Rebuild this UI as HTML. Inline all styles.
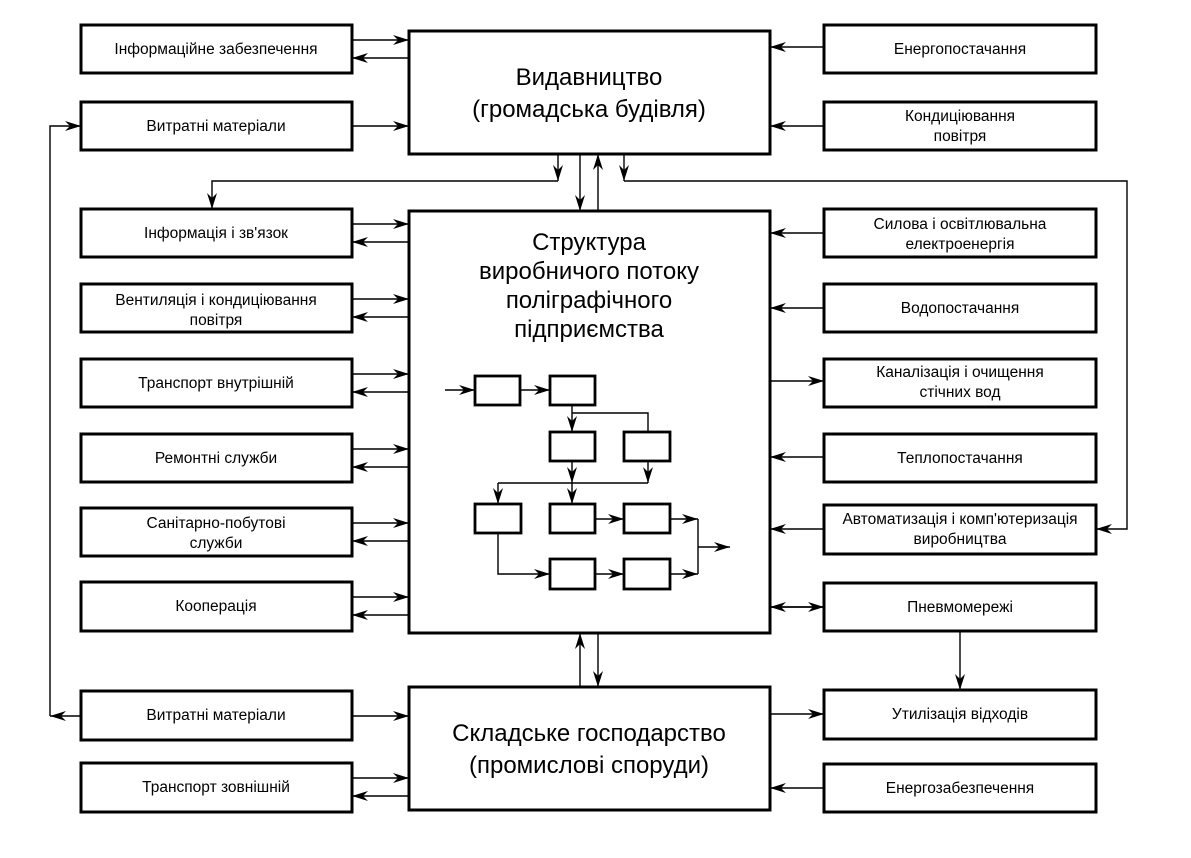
<!DOCTYPE html>
<html><head><meta charset="utf-8"><style>
html,body{margin:0;padding:0;background:#fff}
svg{display:block}
text{font-family:"Liberation Sans",sans-serif;fill:#000}
.b{fill:#fff;stroke:#000;stroke-width:3}
.l{stroke:#000;stroke-width:1.4;fill:none}
.t{font-size:15.5px;text-anchor:middle}
.h{font-size:24px;text-anchor:middle}
</style></head><body>
<svg width="1191" height="858" viewBox="0 0 1191 858" xmlns="http://www.w3.org/2000/svg">
<defs>
<marker id="a" viewBox="0 0 16 10" refX="16" refY="5" markerWidth="16" markerHeight="10" markerUnits="userSpaceOnUse" orient="auto-start-reverse">
<path d="M0,0 L16,5 L0,10 L5,5 Z" fill="#000"/></marker>
</defs>
<g class="b">
<rect x="81" y="25" width="271" height="48"/><rect x="81" y="102" width="271" height="48"/>
<rect x="81" y="209" width="271" height="48"/><rect x="81" y="284" width="271" height="48"/>
<rect x="81" y="359" width="271" height="48"/><rect x="81" y="434" width="271" height="48"/>
<rect x="81" y="508" width="271" height="48"/><rect x="81" y="582" width="271" height="49"/>
<rect x="81" y="691" width="271" height="49"/><rect x="81" y="763" width="271" height="49"/>
<rect x="824" y="25" width="272" height="48"/><rect x="824" y="102" width="272" height="48"/>
<rect x="824" y="209" width="272" height="48"/><rect x="824" y="284" width="272" height="48"/>
<rect x="824" y="359" width="272" height="48"/><rect x="824" y="434" width="272" height="48"/>
<rect x="824" y="505" width="272" height="49"/><rect x="824" y="583" width="272" height="48"/>
<rect x="824" y="690" width="272" height="49"/><rect x="824" y="764" width="272" height="48"/>
<rect x="409" y="31" width="361" height="123"/>
<rect x="409" y="211" width="361" height="422"/>
<rect x="409" y="687" width="361" height="123"/>
</g>
<g class="b" style="stroke-width:2.8">
<rect x="475" y="376" width="45" height="29"/><rect x="550" y="376" width="45" height="29"/>
<rect x="550" y="432" width="45" height="29"/><rect x="624" y="432" width="46" height="29"/>
<rect x="475" y="504" width="46" height="29"/><rect x="550" y="504" width="45" height="29"/>
<rect x="624" y="504" width="46" height="29"/><rect x="550" y="559" width="45" height="30"/>
<rect x="624" y="559" width="46" height="30"/>
</g>
<g class="l" marker-end="url(#a)">
<path d="M352 40H409"/><path d="M409 58H352"/>
<path d="M352 126H409"/>
<path d="M352 224H409"/><path d="M409 242H352"/>
<path d="M352 299H409"/><path d="M409 317H352"/>
<path d="M352 374H409"/><path d="M409 392H352"/>
<path d="M352 449H409"/><path d="M409 467H352"/>
<path d="M352 523H409"/><path d="M409 541H352"/>
<path d="M352 597H409"/><path d="M409 615H352"/>
<path d="M352 716H409"/>
<path d="M352 778H409"/><path d="M409 796H352"/>
<path d="M81 716H50"/><path d="M50 716V126H81"/>
<path d="M824 47H770"/><path d="M824 126H770"/>
<path d="M824 233H770"/><path d="M824 308H770"/>
<path d="M770 381H824"/><path d="M824 457H770"/>
<path d="M824 529H770"/>
<path d="M824 607H770"/><path d="M770 607H824"/>
<path d="M770 714H824"/><path d="M824 788H770"/>
<path d="M960 631V690"/>
<path d="M558 154V181"/><path d="M624 154V181"/>
<path d="M580 154V211"/><path d="M598 211V154"/>
<path d="M558 181H212V209"/>
<path d="M624 181H1127V529H1096"/>
<path d="M580 687V633"/><path d="M598 633V687"/>
<path d="M445 390H475"/><path d="M520 390H550"/>
<path d="M572 405V432"/><path d="M572 461V483"/><path d="M648 461V483"/>
<path d="M572 483V504"/><path d="M498 483V504"/>
<path d="M595 519H624"/><path d="M670 519H698"/>
<path d="M498 533V574H550"/><path d="M595 574H624"/><path d="M670 574H698"/>
<path d="M698 547H730"/>
</g>
<g class="l">
<path d="M572 413H648V432"/><path d="M498 483H648"/><path d="M698 519V574"/>
</g>
<g class="t">
<text x="216" y="54">Інформаційне забезпечення</text>
<text x="216" y="131">Витратні матеріали</text>
<text x="216" y="238">Інформація і зв'язок</text>
<text x="216" y="305">Вентиляція і кондиціювання</text><text x="216" y="325">повітря</text>
<text x="216" y="388">Транспорт внутрішній</text>
<text x="216" y="463">Ремонтні служби</text>
<text x="216" y="528">Санітарно-побутові</text><text x="216" y="548">служби</text>
<text x="216" y="611">Кооперація</text>
<text x="216" y="720">Витратні матеріали</text>
<text x="216" y="792">Транспорт зовнішній</text>
<text x="960" y="54">Енергопостачання</text>
<text x="960" y="121">Кондиціювання</text><text x="960" y="141">повітря</text>
<text x="960" y="229">Силова і освітлювальна</text><text x="960" y="249">електроенергія</text>
<text x="960" y="313">Водопостачання</text>
<text x="960" y="377">Каналізація і очищення</text><text x="960" y="397">стічних вод</text>
<text x="960" y="463">Теплопостачання</text>
<text x="960" y="524">Автоматизація і комп'ютеризація</text><text x="960" y="544">виробництва</text>
<text x="960" y="612">Пневмомережі</text>
<text x="960" y="719">Утилізація відходів</text>
<text x="960" y="793">Енергозабезпечення</text>
</g>
<g class="h">
<text x="589" y="85">Видавництво</text><text x="589" y="117">(громадська будівля)</text>
<text x="589" y="250">Структура</text><text x="589" y="279">виробничого потоку</text>
<text x="589" y="308">поліграфічного</text><text x="589" y="337">підприємства</text>
<text x="589" y="741">Складське господарство</text><text x="589" y="773">(промислові споруди)</text>
</g>
</svg>
</body></html>
